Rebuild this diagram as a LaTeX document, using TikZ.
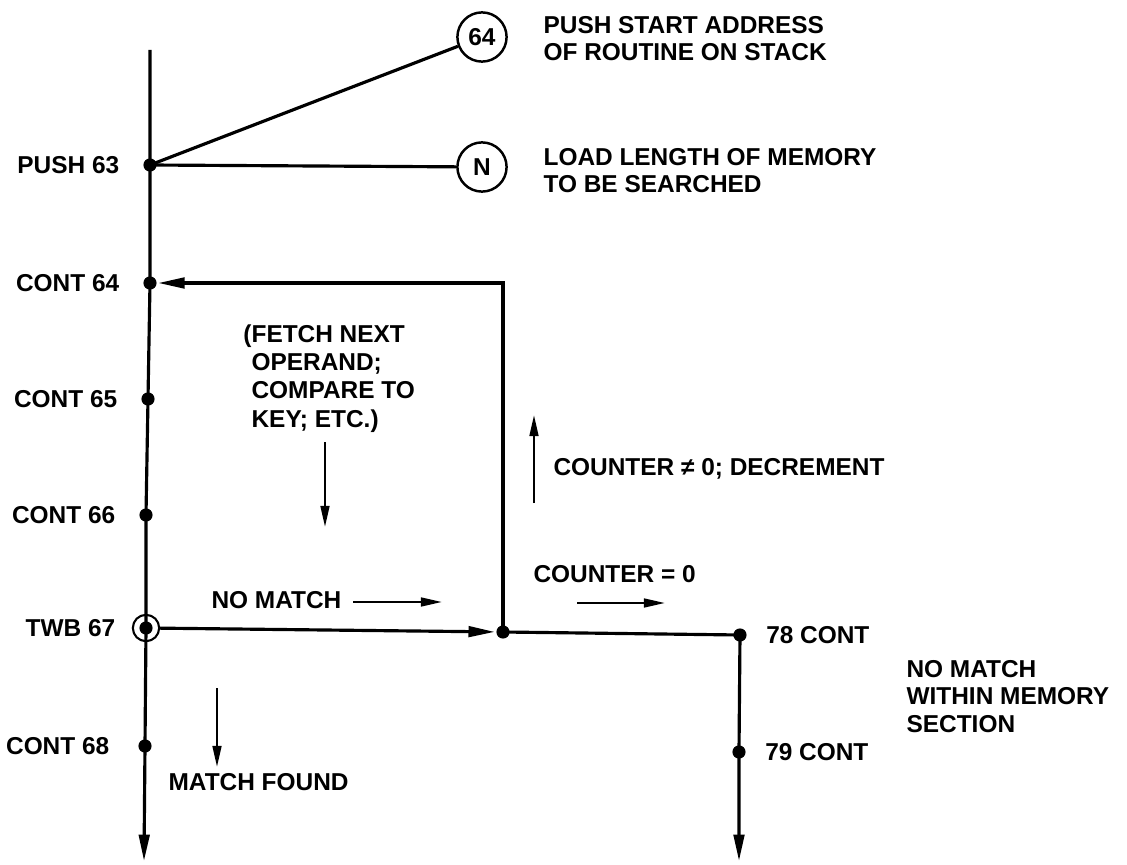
\documentclass[tikz,border=0pt]{standalone}
\usepackage{fontspec}
\setmainfont{Liberation Sans}
\usetikzlibrary{arrows.meta,positioning}

\begin{document}
\begin{tikzpicture}[x=0.02cm, y=-0.02cm, line width=1.8pt,
 font=\fontsize{13.9}{15.6}\selectfont\bfseries, node distance=0.42cm,
 dot/.style={circle, fill, inner sep=0pt, minimum size=7.5pt},
 ring/.style={circle, draw, line width=1.2pt, inner sep=0pt, minimum size=15pt},
 marker/.style={circle, draw, line width=1.4pt, inner sep=0pt, minimum size=28pt},
 tag/.style={inner sep=0pt},
 note/.style={inner sep=0pt, align=left, anchor=base west},
 flow/.style={-{Triangle[length=15pt,width=6pt]}},
 hint/.style={-{Triangle[length=12pt,width=5pt]}, line width=1.3pt}]
\useasboundingbox (0,0) rectangle (1127,865);

% main line
\coordinate (top) at (150,50);
\node[dot] (p63) at (150,165) {};
\node[dot] (c64) at (150,283) {};
\node[dot] (c65) at (148,399) {};
\node[dot] (c66) at (146,515) {};
\node[dot] (t67) at (146,628) {};
\node[ring] (t67r) at (t67) {};
\node[dot] (c68) at (145,746) {};
\coordinate (bot) at (144,861);

% right branch
\node[dot] (jn) at (503,632) {};
\node[dot] (c78) at (740,635) {};
\node[dot] (c79) at (739,752) {};
\coordinate (botr) at (739,861);

\node[marker] (k64) at (482,37) {64};
\node[marker] (kn) at (482,167) {N};

\node[tag, left=of p63] {PUSH 63};
\node[tag, left=of c64] {CONT 64};
\node[tag, left=of c65] {CONT 65};
\node[tag, left=of c66] {CONT 66};
\node[tag, left=of t67] {TWB 67};
\node[tag, left=0.52cm of c68] {CONT 68};
\node[tag, right=0.33cm of c78] {78 CONT};
\node[tag, right=0.33cm of c79] {79 CONT};

% multi-line notes sit on the baseline of their last line
\node[note] (pushtxt) at (542,61) {PUSH START ADDRESS\\OF ROUTINE ON STACK};
\node[note] (loadtxt) at (542,193) {LOAD LENGTH OF MEMORY\\TO BE SEARCHED};
\node[note, font=\fontsize{13.9}{16}\selectfont\bfseries] (fetch) at (250,427) {\llap{(}FETCH NEXT\\OPERAND;\\COMPARE TO\\KEY; ETC.)};
\node[note] (nomatch) at (210,608) {NO MATCH};
\node[note] (cne) at (552,475) {COUNTER ≠ 0; DECREMENT};
\node[note] (ceq) at (532,582) {COUNTER = 0};
\node[note] (found) at (167,790) {MATCH FOUND};
\node[note] (within) at (905,732) {NO MATCH\\WITHIN MEMORY\\SECTION};

% loose direction arrows
\coordinate (fa) at (325,442); \coordinate (fb) at (325,527);
\coordinate (na) at (353,602); \coordinate (nb) at (442,602);
\coordinate (ua) at (534,503); \coordinate (ub) at (534,415);
\coordinate (ea) at (577,603); \coordinate (eb) at (665,603);
\coordinate (ma) at (217,688); \coordinate (mb) at (217,767);

\draw[flow] (top) -- (p63.center) -- (c64.center) -- (c65.center) -- (c66.center) -- (t67.center) -- (c68.center) -- (bot);
\draw (p63.center) -- (k64);
\draw (p63.center) -- (kn);
\draw[flow] (t67r) -- (jn);
\draw[flow] (jn.center) -- (jn.center |- c64) -- (c64);
\draw (jn.center) -- (c78.center);
\draw[flow] (c78.center) -- (c79.center) -- (botr);

\draw[hint] (fa) -- (fb);
\draw[hint] (na) -- (nb);
\draw[hint] (ua) -- (ub);
\draw[hint] (ea) -- (eb);
\draw[hint] (ma) -- (mb);
\end{tikzpicture}
\end{document}
